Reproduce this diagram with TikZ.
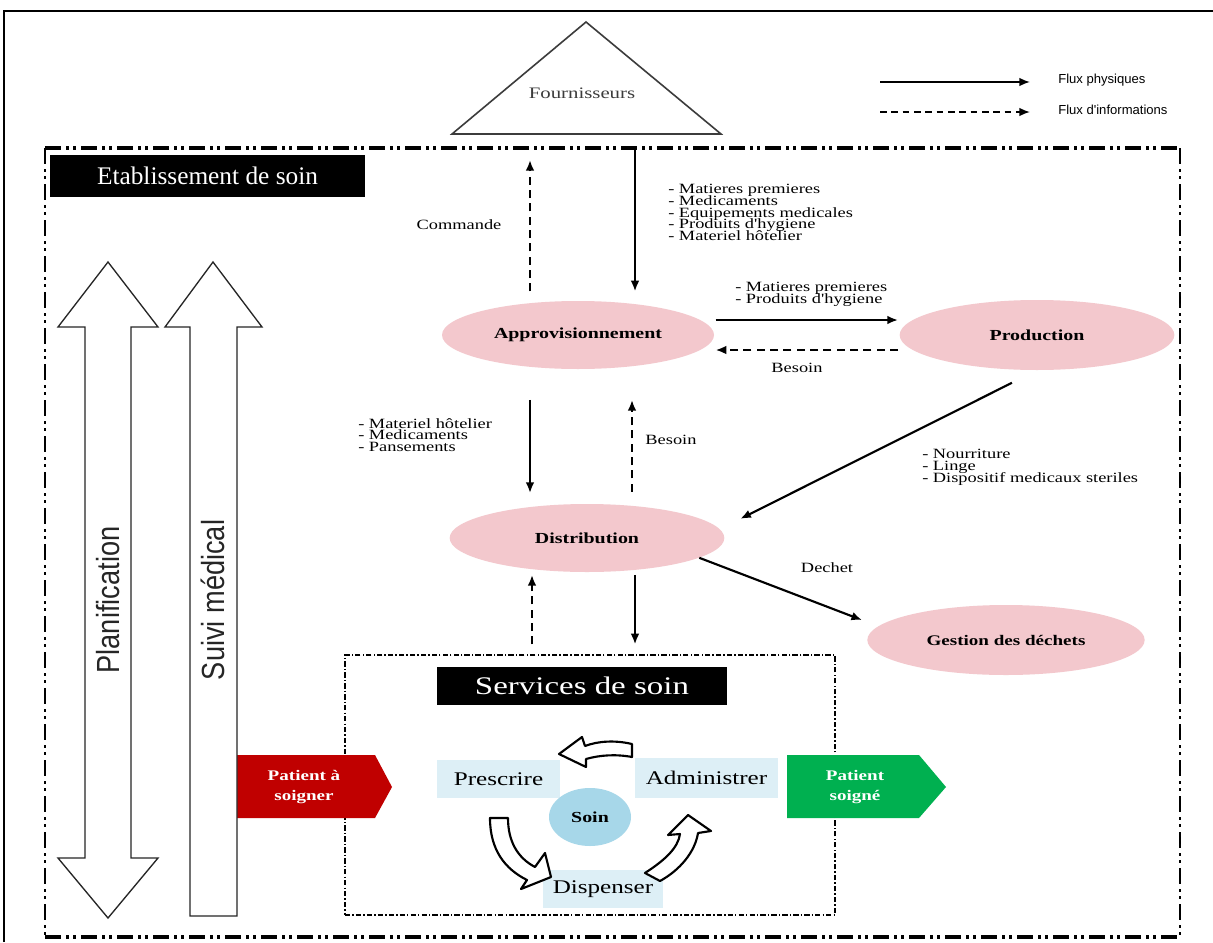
\documentclass[tikz,border=0pt]{standalone}
\usepackage{fontspec}
\setmainfont{Liberation Serif}
\newfontfamily\wideserif[FakeStretch=1.3]{Liberation Serif}
\newfontfamily\legendsans{Liberation Sans}
\newfontfamily\narrowsans[FakeStretch=0.85]{Liberation Sans}
\usetikzlibrary{arrows.meta,shapes.geometric,calc}

\definecolor{stagepink}{RGB}{243,200,205}
\definecolor{carebox}{RGB}{221,239,246}
\definecolor{careblue}{RGB}{167,215,233}
\definecolor{inred}{RGB}{192,0,0}
\definecolor{outgreen}{RGB}{0,176,80}
\definecolor{textgray}{RGB}{60,60,60}

% small labels: fixed line pitch, even when the lines touch
\newcommand\smalllabelfont{\wideserif\fontsize{10.6}{8.8}\selectfont\lineskiplimit=-20pt\relax}

\tikzset{
  flow/.style={line width=1.6pt,-{Latex[length=8pt,width=6.5pt]}},
  info/.style={line width=1.6pt,dash pattern=on 6pt off 4pt,-{Latex[length=8pt,width=6.5pt]}},
  stage/.style={ellipse,fill=stagepink,draw=none,
    font=\wideserif\bfseries\fontsize{11.5}{13}\selectfont},
  smalltxt/.style={font=\smalllabelfont,align=left,inner sep=0pt},
  carestep/.style={fill=carebox,draw=none,
    font=\wideserif\fontsize{14.5}{16}\selectfont},
  blacktitle/.style={fill=black,text=white,draw=none},
  hollow/.style={draw=black!85,line width=1pt,fill=white,line join=miter},
  cyclearrow/.style={draw=black,line width=1.6pt,fill=white,line join=round},
  framedash/.style={dash pattern=on 12pt off 4pt on 2pt off 3pt on 2pt off 4pt},
  boxdash/.style={line width=0.9pt,dash pattern=on 4pt off 1.6pt on 1pt off 1.6pt},
  patient/.style={text=white,align=center,
    font=\wideserif\bfseries\fontsize{11}{15}\selectfont},
  legtxt/.style={font=\legendsans\fontsize{9.8}{11}\selectfont,anchor=west,inner sep=0pt}
}

\begin{document}
\begin{tikzpicture}[x=0.75pt,y=-0.75pt]
\useasboundingbox (0,0) rectangle (1213,942);
\fill[white] (0,0) rectangle (1213,942);

% outer solid border
\draw[line width=2.2pt] (4,942) -- (4,11) -- (1213,11);

% dash-dot frame of the hospital
\draw[framedash,line width=2.8pt] (45,148) -- (1180,148);
\draw[framedash,line width=2.8pt] (45,937) -- (1180,937);
\draw[framedash,line width=1.8pt] (45,148) -- (45,937);
\draw[framedash,line width=1.8pt] (1180,148) -- (1180,937);

% suppliers
\draw[draw=textgray,line width=1.2pt,fill=white] (586,22) -- (721,134) -- (452,134) -- cycle;
\node[text=textgray,font=\wideserif\fontsize{12}{14}\selectfont] (fourn) at (582,93) {Fournisseurs};

% legend
\coordinate (legA1) at (880,82);
\coordinate (legA2) at (1030,82);
\coordinate (legB1) at (880,112);
\coordinate (legB2) at (1030,112);
\draw[line width=1.3pt,-{Latex[length=8pt,width=6.5pt]}] (legA1) -- (legA2);
\draw[line width=1.3pt,dash pattern=on 5pt off 3.5pt,-{Latex[length=8pt,width=6.5pt]}] (legB1) -- (legB2);
\node[legtxt] (legphys) at (1058,80) {Flux physiques};
\node[legtxt] (leginfo) at (1058,110) {Flux d'informations};

% title of the hospital
\node[blacktitle,minimum width=236pt,minimum height=31.5pt,
  font=\fontsize{19}{21}\selectfont] (etab) at (207.5,176) {Etablissement de soin};

% logistics stages
\node[stage,minimum width=204pt,minimum height=51pt] (appro) at (578,335) {Approvisionnement};
\node[stage,minimum width=206pt,minimum height=52.5pt] (prod) at (1037,335) {Production};
\node[stage,minimum width=206pt,minimum height=51pt] (dist) at (587,538) {Distribution};
\node[stage,minimum width=208pt,minimum height=52.5pt,
  font=\wideserif\bfseries\fontsize{11}{13}\selectfont] (dechets) at (1006,640) {Gestion des déchets};

% care services box
\node[draw,boxdash,minimum width=367.5pt,minimum height=195pt] (serv) at (590,785) {};
\node[blacktitle,minimum width=217.5pt,minimum height=28.5pt,
  font=\wideserif\fontsize{19}{21}\selectfont] (servtitle) at (582,686) {Services de soin};

% flows between the supplier and procurement
\coordinate (cmdTop) at (530,160);
\coordinate (supBot) at (635,150);
\draw[info,shorten <=7pt] (cmdTop |- appro.north) -- (cmdTop);
\draw[flow,shorten >=7pt] (supBot) -- (supBot |- appro.north);
\node[smalltxt] (cmdlbl) at (459,225) {Commande};
\node[smalltxt,anchor=north west] (supply) at (668,184) {- Matieres premieres\\- Medicaments\\- Equipements medicales\\- Produits d'hygiene\\- Materiel hôtelier};

% procurement <-> production
\draw[flow,shorten <=1pt,shorten >=1pt] ([yshift=11.25pt]appro.east) -- ([yshift=11.25pt]prod.west);
\draw[info,shorten <=1pt,shorten >=1pt] ([yshift=-11.25pt]prod.west) -- ([yshift=-11.25pt]appro.east);
\node[smalltxt,anchor=north west] (prodin) at (735,282) {- Matieres premieres\\- Produits d'hygiene};
\node[smalltxt] (besoin1) at (797,368) {Besoin};

% procurement <-> distribution
\coordinate (colA) at (530,0);
\coordinate (colB) at (632,0);
\draw[flow,shorten <=23pt,shorten >=8pt] (colA |- appro.south) -- (colA |- dist.north);
\draw[info,shorten <=9pt,shorten >=23pt] (colB |- dist.north) -- (colB |- appro.south);
\node[smalltxt,anchor=north west] (distin) at (358,418) {- Materiel hôtelier\\- Medicaments\\- Pansements};
\node[smalltxt] (besoin2) at (671,440) {Besoin};

% production -> distribution
\draw[flow,shorten <=21pt,shorten >=2pt] (prod.south) -- ([xshift=10pt,yshift=13.5pt]dist.east);
\node[smalltxt,anchor=north west] (prodout) at (922,449) {- Nourriture\\- Linge\\- Dispositif medicaux steriles};

% distribution -> waste
\draw[flow,shorten >=4pt] (dist.-10) -- ([yshift=13.5pt]dechets.west);
\node[smalltxt] (dechlbl) at (827,568) {Dechet};

% distribution <-> care services
\coordinate (colC) at (532,0);
\coordinate (colD) at (635,0);
\draw[info,shorten <=7.5pt,shorten >=2pt] (colC |- serv.north) -- (colC |- dist.south);
\draw[flow,shorten <=2pt,shorten >=7.5pt] (colD |- dist.south) -- (colD |- serv.north);

% care cycle
\node[carestep,minimum width=92pt,minimum height=28.5pt] (prescrire) at (498.5,779) {Prescrire};
\node[carestep,minimum width=107pt,minimum height=30pt] (administrer) at (706.5,778) {Administrer};
\node[carestep,minimum width=90pt,minimum height=28.5pt] (dispenser) at (603,889) {Dispenser};
\node[ellipse,fill=careblue,minimum width=61.5pt,minimum height=43.5pt,
  font=\wideserif\bfseries\fontsize{11.5}{13}\selectfont] (soin) at (590,817) {Soin};

% curved block arrows of the cycle
\draw[cyclearrow] (632,744) .. controls (615,740) and (598,741) .. (585,746) -- (582,737)
  -- (559,754) -- (586,767) -- (586,759) .. controls (600,755) and (616,754) .. (632,757) -- cycle;
\draw[cyclearrow] (490,818) .. controls (490,850) and (505,869) .. (527,880) -- (521,889)
  -- (551,877) -- (545,853) -- (535,867) .. controls (518,858) and (508,842) .. (508,818) -- cycle;
\draw[cyclearrow] (645,873) .. controls (665,860) and (678,848) .. (680,834) -- (668,835)
  -- (688,815) -- (711,831) -- (698,833) .. controls (695,852) and (680,870) .. (660,881) -- cycle;

% patient in / out
\fill[inred] (235,755) -- (375,755) -- (392,787) -- (375,818) -- (235,818) -- cycle;
\node[patient] (pin) at (304,787) {Patient à\\soigner};
\fill[outgreen] (787,755) -- (919,755) -- (946,787) -- (919,818) -- (787,818) -- cycle;
\node[patient] (pout) at (855,787) {Patient\\soigné};

% planning and medical follow-up
\draw[hollow] (108,262) -- (158,327) -- (131,327) -- (131,858) -- (158,858) -- (108,918)
  -- (58,858) -- (85,858) -- (85,327) -- (58,327) -- cycle;
\node[rotate=90,font=\narrowsans\fontsize{24}{26}\selectfont,text=black!85] (planif) at (108,600) {Planification};
\draw[hollow] (213,262) -- (262,327) -- (237,327) -- (237,916) -- (190,916) -- (190,327)
  -- (165,327) -- cycle;
\node[rotate=90,font=\narrowsans\fontsize{24}{26}\selectfont,text=black!85] (suivi) at (213,600) {Suivi médical};
\end{tikzpicture}
\end{document}
